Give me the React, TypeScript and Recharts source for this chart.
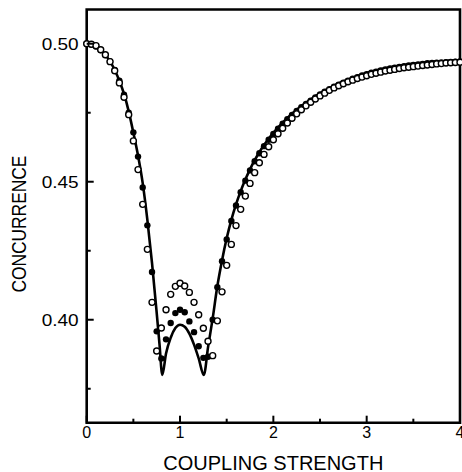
import { ComposedChart, Line, Scatter, XAxis, YAxis, ReferenceArea, Label } from 'recharts';

// coupling strength grid for the two sets of markers
const couplingGrid = [
  0, 0.05, 0.1, 0.15, 0.2, 0.25, 0.3, 0.35, 0.4, 0.45,
  0.5, 0.55, 0.6, 0.65, 0.7, 0.75, 0.8, 0.85, 0.9, 0.95,
  1, 1.05, 1.1, 1.15, 1.2, 1.25, 1.3, 1.35, 1.4, 1.45,
  1.5, 1.55, 1.6, 1.65, 1.7, 1.75, 1.8, 1.85, 1.9, 1.95,
  2, 2.05, 2.1, 2.15, 2.2, 2.25, 2.3, 2.35, 2.4, 2.45,
  2.5, 2.55, 2.6, 2.65, 2.7, 2.75, 2.8, 2.85, 2.9, 2.95,
  3, 3.05, 3.1, 3.15, 3.2, 3.25, 3.3, 3.35, 3.4, 3.45,
  3.5, 3.55, 3.6, 3.65, 3.7, 3.75, 3.8, 3.85, 3.9, 3.95,
  4,
];

// open circles
const openDots = [
  0.5, 0.4998, 0.4993, 0.4978, 0.496, 0.4935, 0.4902, 0.4858, 0.4806, 0.4743,
  0.4648, 0.4544, 0.4418, 0.4255, 0.4063, 0.3887, 0.397, 0.4036, 0.4092, 0.4121,
  0.4132, 0.4122, 0.4099, 0.4063, 0.4018, 0.3969, 0.3922, 0.387, 0.3996, 0.4101,
  0.4197, 0.4273, 0.4341, 0.44, 0.4448, 0.4494, 0.4533, 0.4569, 0.4599, 0.4627,
  0.4652, 0.4674, 0.4694, 0.4713, 0.473, 0.4746, 0.4761, 0.4775, 0.4788, 0.48,
  0.4811, 0.4821, 0.4831, 0.484, 0.4848, 0.4855, 0.4862, 0.4868, 0.4874, 0.4879,
  0.4884, 0.4889, 0.4893, 0.4897, 0.4901, 0.4904, 0.4907, 0.491, 0.4913, 0.4915,
  0.4917, 0.4919, 0.4921, 0.4923, 0.4925, 0.4927, 0.4928, 0.493, 0.4931, 0.4932,
  0.4933,
];

// filled dots
const filledDots = [
  0.5, 0.4997, 0.499, 0.4977, 0.4959, 0.4936, 0.4905, 0.4866, 0.4815, 0.475,
  0.4679, 0.4591, 0.4479, 0.4342, 0.4173, 0.3958, 0.386, 0.3929, 0.3988, 0.4024,
  0.4036, 0.4027, 0.3994, 0.3955, 0.3904, 0.3862, 0.3866, 0.4, 0.4118, 0.4212,
  0.4291, 0.4358, 0.4414, 0.4462, 0.4504, 0.4541, 0.4574, 0.4603, 0.4629, 0.4652,
  0.4673, 0.4692, 0.471, 0.4727, 0.4742, 0.4756, 0.477, 0.4782, 0.4794, 0.4805,
  0.4816, 0.4826, 0.4835, 0.4844, 0.4852, 0.4859, 0.4866, 0.4873, 0.4879, 0.4885,
  0.489, 0.4895, 0.4899, 0.4903, 0.4907, 0.491, 0.4913, 0.4916, 0.4919, 0.4921,
  0.4923, 0.4925, 0.4927, 0.4929, 0.493, 0.4931, 0.4932, 0.4933, 0.4934, 0.4935,
  0.4936,
];

// solid curve
const curveX = [
  0, 0.05, 0.1, 0.15, 0.2, 0.25, 0.3, 0.35, 0.4, 0.45, 0.5, 0.55, 0.6, 0.65, 0.7, 0.75, 0.78, 0.81,
  0.85, 0.9, 0.95, 1, 1.05, 1.1, 1.15, 1.2, 1.255,
  1.3, 1.35, 1.4, 1.45, 1.5, 1.55, 1.6, 1.65, 1.7, 1.75, 1.8, 1.85, 1.9, 1.95, 2,
  2.1, 2.2, 2.3, 2.4, 2.5, 2.6, 2.7, 2.8, 2.9, 3, 3.2, 3.4, 3.6, 3.8, 4,
];
const curveC = [
  0.5, 0.4997, 0.499, 0.4977, 0.4959, 0.4936, 0.4905, 0.4866, 0.4818, 0.4755, 0.4678, 0.4595, 0.4495, 0.4362, 0.4205, 0.4025, 0.3912, 0.38,
  0.3878, 0.3935, 0.397, 0.3982, 0.3975, 0.395, 0.391, 0.386, 0.38,
  0.39, 0.4005, 0.4122, 0.4215, 0.4295, 0.4362, 0.4418, 0.4466, 0.4508, 0.4545, 0.4578, 0.4607, 0.4633, 0.4656, 0.4677,
  0.4714, 0.4746, 0.4774, 0.4798, 0.482, 0.4839, 0.4856, 0.487, 0.4883, 0.4894, 0.4911, 0.4923, 0.4931, 0.4936, 0.4939,
];

const xTicks = [0, 0.5, 1, 1.5, 2, 2.5, 3, 3.5, 4];
const xMajor = [0, 1, 2, 3, 4];
const yTicks = [0.375, 0.4, 0.425, 0.45, 0.475, 0.5];
const yMajor = [0.4, 0.45, 0.5];
const yLabels = ['0.40', '0.45', '0.50'];

const openData = couplingGrid.map((x, i) => ({ x, c: openDots[i] }));
const filledData = couplingGrid.map((x, i) => ({ x, c: filledDots[i] }));
const curveData = curveX.map((x, i) => ({ x, c: curveC[i] }));

const font = 'Liberation Sans, Arial, Helvetica, sans-serif';

function XTick({ x, y, payload }: any) {
  const major = xMajor.includes(payload.value);
  return (
    <g>
      <line x1={x} x2={x} y1={y} y2={y - (major ? 7 : 4)} stroke="#000" strokeWidth={2} />
      {major && (
        <text x={x} y={y + 15} textAnchor="middle" fontSize={16} fontFamily={font} fill="#000">
          {payload.value}
        </text>
      )}
    </g>
  );
}

function YTick({ x, y, payload }: any) {
  const idx = yMajor.indexOf(payload.value);
  const major = idx >= 0;
  return (
    <g>
      <line x1={x} x2={x + (major ? 7 : 4)} y1={y} y2={y} stroke="#000" strokeWidth={2} />
      {major && (
        <text x={x - 45} y={y + 6} fontSize={16.5} fontFamily={font} fill="#000" textLength={37} lengthAdjust="spacingAndGlyphs">
          {yLabels[idx]}
        </text>
      )}
    </g>
  );
}

const OpenDot = (p: any) => <circle cx={p.cx} cy={p.cy} r={3} fill="#fff" stroke="#000" strokeWidth={1.4} />;
const FilledDot = (p: any) => <circle cx={p.cx} cy={p.cy} r={3.2} fill="#000" />;

export default function App() {
  return (
    <div style={{ position: 'absolute', left: 0, top: 0, background: '#fff' }}>
      <ComposedChart width={462} height={472} margin={{ top: 9.5, right: 2, left: 0, bottom: 0 }}>
        <XAxis
          dataKey="x"
          type="number"
          domain={[0, 4]}
          ticks={xTicks}
          interval={0}
          axisLine={false}
          tickLine={false}
          tickSize={0}
          tickMargin={0}
          height={49.3}
          tick={(p: any) => <XTick {...p} />}
        >
          <Label
            content={(p: any) => (
              <text
                x={p.viewBox.x + p.viewBox.width / 2}
                y={p.viewBox.y + 47}
                textAnchor="middle"
                fontSize={19.5}
                fontFamily={font}
                fill="#000"
                textLength={220}
                lengthAdjust="spacingAndGlyphs"
              >
                COUPLING STRENGTH
              </text>
            )}
          />
        </XAxis>
        <YAxis
          dataKey="c"
          type="number"
          domain={[0.3627, 0.5124]}
          ticks={yTicks}
          interval={0}
          axisLine={false}
          tickLine={false}
          tickSize={0}
          tickMargin={0}
          width={86.7}
          tick={(p: any) => <YTick {...p} />}
        >
          <Label
            content={(p: any) => {
              const cx = 26;
              const cy = p.viewBox.y + p.viewBox.height / 2 + 8;
              return (
                <text
                  x={cx}
                  y={cy}
                  transform={`rotate(-90 ${cx} ${cy})`}
                  textAnchor="middle"
                  fontSize={19.5}
                  fontFamily={font}
                  fill="#000"
                  textLength={137}
                  lengthAdjust="spacingAndGlyphs"
                >
                  CONCURRENCE
                </text>
              );
            }}
          />
        </YAxis>
        <ReferenceArea x1={0} x2={4} y1={0.3627} y2={0.5124} fill="none" stroke="#000" strokeWidth={2.6} />
        <Line data={curveData} dataKey="c" type="monotone" stroke="#000" strokeWidth={2.6} dot={false} isAnimationActive={false} />
        <Scatter data={filledData} shape={FilledDot} isAnimationActive={false} />
        <Scatter data={openData} shape={OpenDot} isAnimationActive={false} />
      </ComposedChart>
    </div>
  );
}
